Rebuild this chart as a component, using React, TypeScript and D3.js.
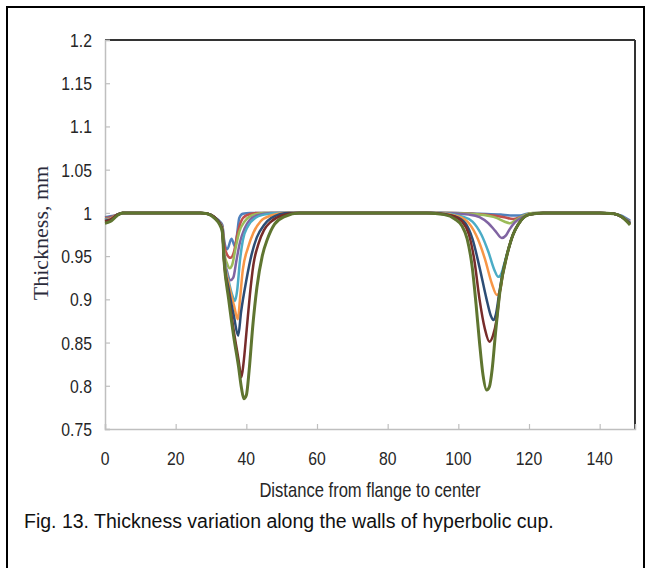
import React, { useRef, useEffect } from 'react';
import * as d3 from 'd3';

// thickness (mm) vs distance from flange, one array per simulation stage
const run1: [number, number][] = [[0,0.995],[1.5,0.996],[3.5,0.998],[5,1],[27,1],[29,0.999],[31,0.995],[32.5,0.99],[33.2,0.986],[33.8,0.966],[34.6,0.958],[35.8,0.97],[36.8,0.961],[37.4,0.976],[38,0.994],[39,0.999],[41,1],[100,1],[106,0.999],[112,0.998],[115,0.997],[117.5,0.997],[119.5,0.999],[122,1],[140,1],[144,0.999],[146,0.997],[148.6,0.991]];
const run2: [number, number][] = [[0,0.994],[1.5,0.995],[3.5,0.998],[5,1],[27,1],[29,0.999],[31,0.995],[32.5,0.989],[33.2,0.984],[33.8,0.962],[34.5,0.952],[35.5,0.948],[36.5,0.955],[37.5,0.976],[38.5,0.99],[40,0.997],[43,1],[98,1],[104,0.999],[110,0.997],[113,0.995],[115.5,0.993],[117.5,0.995],[120,0.999],[123,1],[140,1],[144,0.999],[146,0.996],[148.6,0.99]];
const run3: [number, number][] = [[0,0.993],[1.5,0.994],[3.5,0.998],[5,1],[27,1],[29,0.999],[31,0.995],[32.5,0.988],[33.2,0.983],[33.7,0.955],[34.5,0.942],[35.3,0.936],[36,0.94],[37,0.96],[38,0.978],[39.5,0.99],[41.5,0.997],[45,1],[97,1],[103,0.999],[108,0.997],[111,0.994],[113,0.99],[114.6,0.988],[116,0.991],[118,0.996],[121,1],[140,1],[144,0.999],[146,0.996],[148.6,0.989]];
const run4: [number, number][] = [[0,0.992],[1.5,0.994],[3.5,0.998],[5,1],[27,1],[29,0.999],[31,0.995],[32.5,0.988],[33.2,0.982],[33.7,0.95],[34.5,0.933],[35.5,0.922],[36.3,0.925],[37.2,0.945],[38.2,0.966],[39.5,0.982],[41,0.992],[43,0.997],[47,1],[96,1],[103,0.998],[106,0.995],[108.5,0.988],[110.5,0.979],[112.3,0.971],[113.5,0.974],[114.5,0.981],[116,0.989],[118,0.995],[121,0.999],[124,1],[140,1],[144,0.999],[146,0.996],[148.6,0.988]];
const run5: [number, number][] = [[0,0.992],[1.5,0.993],[3.5,0.998],[5,1],[27,1],[29,0.999],[31,0.995],[32.5,0.988],[33.2,0.982],[33.7,0.948],[34.8,0.925],[36,0.905],[36.8,0.898],[37.4,0.91],[38.2,0.945],[39,0.968],[40.5,0.985],[42.5,0.994],[45,0.998],[49,1],[95,1],[101,0.996],[104,0.99],[106.5,0.975],[108.5,0.955],[110.2,0.934],[111.3,0.926],[112.2,0.93],[113,0.941],[114,0.956],[115.5,0.975],[117,0.987],[120,0.998],[124,1],[140,1],[144,0.999],[146,0.996],[148.6,0.989]];
const run6: [number, number][] = [[0,0.991],[1.5,0.993],[3.5,0.998],[5,1],[27,1],[29,0.999],[31,0.995],[32.5,0.988],[33.2,0.982],[33.7,0.947],[35,0.918],[36.5,0.893],[37.6,0.877],[38.2,0.9],[39,0.934],[40.5,0.96],[42,0.977],[44,0.99],[47,0.997],[51,1],[94,1],[100,0.996],[103,0.988],[105.5,0.97],[107.5,0.947],[109.5,0.918],[110.9,0.905],[111.8,0.91],[112.6,0.93],[113.8,0.952],[115.5,0.975],[117,0.987],[120,0.998],[124,1],[140,1],[144,0.999],[146,0.996],[148.6,0.988]];
const run7: [number, number][] = [[0,0.991],[1.5,0.992],[3.5,0.998],[5,1],[27,1],[29,0.999],[31,0.995],[32.5,0.988],[33.2,0.981],[33.7,0.946],[35,0.912],[36.5,0.88],[37.7,0.858],[38.5,0.885],[40,0.922],[41.5,0.952],[43,0.972],[45,0.986],[47,0.994],[52,1],[93,1],[99,0.996],[102,0.988],[104,0.97],[106,0.937],[108,0.9],[109.2,0.881],[109.9,0.876],[110.6,0.882],[111.5,0.905],[112.5,0.93],[113.8,0.952],[115.5,0.975],[117,0.987],[120,0.998],[124,1],[140,1],[144,0.999],[146,0.996],[148.6,0.988]];
const run8: [number, number][] = [[0,0.99],[1.5,0.992],[3.5,0.998],[5,1],[27,1],[29,0.999],[31,0.995],[32.5,0.987],[33.2,0.98],[33.7,0.945],[35,0.905],[36.5,0.862],[37.8,0.83],[38.6,0.81],[39.2,0.826],[40.1,0.865],[41,0.905],[42,0.94],[43.5,0.965],[45,0.98],[47,0.99],[50,0.997],[54,1],[92,1],[98,0.997],[101,0.99],[103,0.975],[104.5,0.946],[106,0.9],[107.5,0.866],[108.8,0.851],[109.8,0.858],[110.8,0.876],[111.8,0.91],[113.7,0.95],[115.5,0.975],[117,0.987],[120,0.998],[124,1],[140,1],[144,0.999],[146,0.996],[148.6,0.987]];
const run9: [number, number][] = [[0,0.988],[1.5,0.99],[3.5,0.997],[5,1],[27,1],[29,0.999],[31,0.994],[32.5,0.986],[33.2,0.978],[33.7,0.944],[35,0.9],[36.5,0.855],[37.8,0.822],[38.6,0.798],[39.3,0.785],[40,0.789],[40.8,0.818],[41.8,0.868],[43,0.914],[44.5,0.95],[46,0.97],[48,0.987],[51,0.996],[55,1],[91,1],[96,0.998],[99,0.993],[101,0.985],[102.5,0.97],[104,0.935],[105,0.895],[106,0.85],[107,0.812],[108,0.795],[108.8,0.799],[109.6,0.82],[110.5,0.86],[111.8,0.91],[113.7,0.95],[115.5,0.975],[117,0.987],[120,0.998],[124,1],[140,1],[144,0.999],[146,0.996],[148.6,0.986]];

const runs = [run1, run2, run3, run4, run5, run6, run7, run8, run9];
const runColors = ['#4F81BD', '#C0504D', '#9BBB59', '#8064A2', '#4BACC6', '#F79646', '#2C4D75', '#772C2A', '#5F7530'];

const xTicks = [0, 20, 40, 60, 80, 100, 120, 140];
const yTicks = [0.75, 0.8, 0.85, 0.9, 0.95, 1, 1.05, 1.1, 1.15, 1.2];

const xTitle = 'Distance from flange to center';
const yTitle = 'Thickness, mm';
const caption = 'Fig. 13. Thickness variation along the walls of hyperbolic cup.';

const sans = '"Liberation Sans", Arial, sans-serif';

function ThicknessChart() {
  const ref = useRef<SVGSVGElement>(null);

  useEffect(() => {
    const svg = d3.select(ref.current);
    svg.selectAll('*').remove();

    const left = 105, right = 635, top = 40, bottom = 429;

    const x = d3.scaleLinear().domain([0, 150]).range([left, right]);
    const y = d3.scaleLinear().domain([0.75, 1.2]).range([bottom, top]);

    // narrow-looking text: Arial squeezed horizontally like Arial Narrow
    const narrowText = (g, px, py, str, size, anchor, squeeze = 0.83) =>
      g.append('text')
        .attr('transform', `translate(${px},${py}) scale(${squeeze},1)`)
        .attr('text-anchor', anchor)
        .attr('font-family', sans)
        .attr('font-size', size)
        .attr('fill', '#262626')
        .text(str);

    // outer figure frame
    svg.append('rect')
      .attr('x', 7).attr('y', 7)
      .attr('width', 637).attr('height', 580)
      .attr('fill', 'white')
      .attr('stroke', 'black')
      .attr('stroke-width', 2);

    // plot area border: dark top/right, grey axes
    svg.append('line')
      .attr('x1', left).attr('x2', right).attr('y1', top).attr('y2', top)
      .attr('stroke', '#333').attr('stroke-width', 2);
    svg.append('line')
      .attr('x1', right).attr('x2', right).attr('y1', top).attr('y2', bottom)
      .attr('stroke', '#333').attr('stroke-width', 2);

    const xAxis = svg.append('g')
      .attr('transform', `translate(0,${bottom})`)
      .call(d3.axisTop(x).tickValues(xTicks).tickSize(5).tickFormat(() => ''));
    const yAxis = svg.append('g')
      .attr('transform', `translate(${left},0)`)
      .call(d3.axisRight(y).tickValues(yTicks).tickSize(5).tickFormat(() => ''));
    [xAxis, yAxis].forEach(g => {
      g.select('.domain').attr('stroke', '#bfbfbf').attr('stroke-width', 1.5);
      g.selectAll('.tick line').attr('stroke', '#bfbfbf').attr('stroke-width', 1.2);
    });

    // tick labels
    const xLab = svg.append('g');
    xTicks.forEach(t => narrowText(xLab, x(t), 465, String(t), 19, 'middle'));
    const yLab = svg.append('g');
    yTicks.forEach(t => narrowText(yLab, 92, y(t) + 7, String(+t.toFixed(2)), 19, 'end'));

    // curves
    const line = d3.line<[number, number]>()
      .x(d => x(d[0]))
      .y(d => y(d[1]))
      .curve(d3.curveMonotoneX);

    runs.forEach((r, i) => {
      svg.append('path')
        .datum(r)
        .attr('fill', 'none')
        .attr('stroke', runColors[i])
        .attr('stroke-width', i === 8 ? 3 : 2.5)
        .attr('stroke-linejoin', 'round')
        .attr('d', line);
    });

    // titles
    narrowText(svg, (left + right) / 2, 497, xTitle, 20, 'middle');

    svg.append('text')
      .attr('transform', `translate(48,233) rotate(-90)`)
      .attr('text-anchor', 'middle')
      .attr('font-family', '"Liberation Serif", "Times New Roman", serif')
      .attr('font-size', 22)
      .attr('fill', '#2b2b3b')
      .text(yTitle);

    svg.append('text')
      .attr('x', 24)
      .attr('y', 528)
      .attr('font-family', sans)
      .attr('font-size', 19.5)
      .attr('fill', '#111')
      .text(caption);
  }, []);

  return (
    <svg ref={ref} width={653} height={568}
      style={{ position: 'absolute', left: 0, top: 0, background: 'white' }} />
  );
}

export default function App() {
  return <ThicknessChart />;
}
